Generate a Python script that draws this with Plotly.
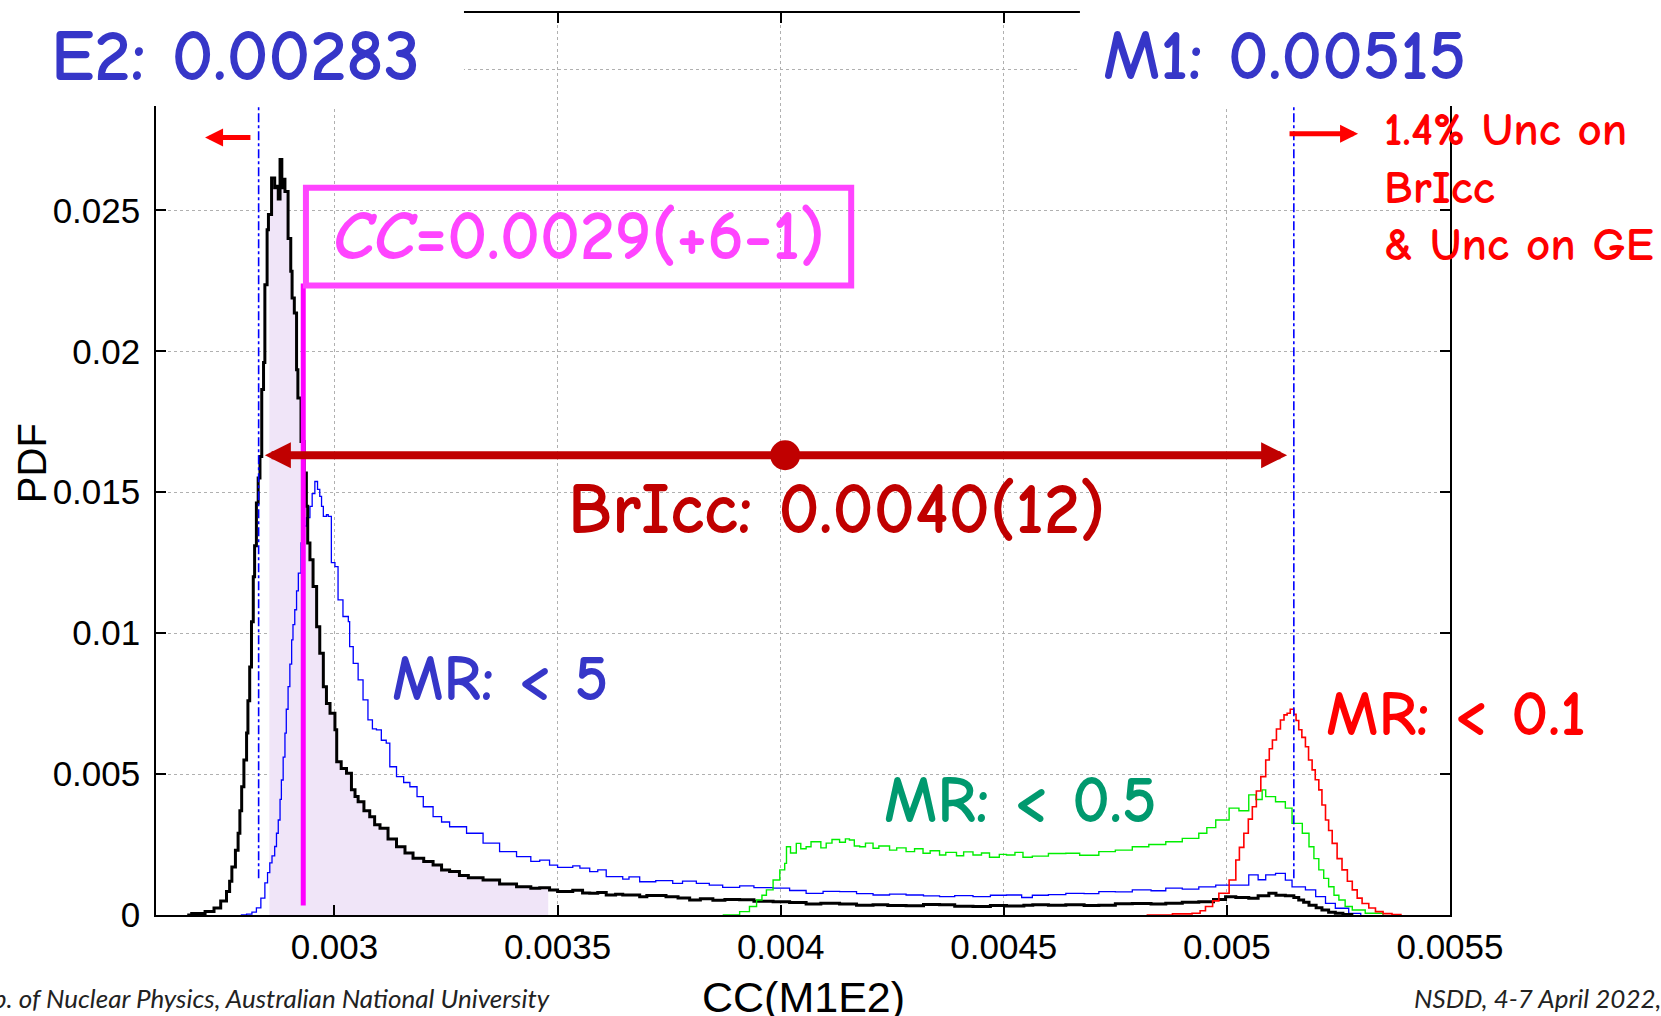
import plotly.graph_objects as go

# ---------------- data ----------------
black_x = [0.00267, 0.00268, 0.00271, 0.00273, 0.002745, 0.002758, 0.002765, 0.00277, 0.002778, 0.002784,
           0.002788, 0.002792, 0.002797, 0.002803, 0.002806, 0.00281, 0.002814, 0.002818, 0.002821, 0.002825,
           0.002829, 0.002833, 0.002837, 0.002841, 0.002844, 0.002849, 0.002852, 0.002859, 0.002866, 0.00287,
           0.002874, 0.002878, 0.002882, 0.002885, 0.002889, 0.002896, 0.002902, 0.002905, 0.00291, 0.002915,
           0.002918, 0.002925, 0.002932, 0.002937, 0.00294, 0.002945, 0.002952, 0.00296, 0.002967, 0.002975,
           0.002982, 0.00299, 0.003001, 0.003005, 0.003015, 0.003027, 0.003038, 0.003046, 0.003053, 0.003066,
           0.003079, 0.00309, 0.003102, 0.00312, 0.003139, 0.003158, 0.003176, 0.0032, 0.003221, 0.00324,
           0.003258, 0.00328, 0.0033, 0.003333, 0.00337, 0.003408, 0.00344, 0.00346, 0.003482, 0.0035,
           0.003534, 0.003556, 0.003572, 0.00359, 0.003609, 0.00363, 0.003646, 0.003684, 0.0037, 0.003743,
           0.00377, 0.003796, 0.00382, 0.003848, 0.003875, 0.003908, 0.00394, 0.003983, 0.00402, 0.004057,
           0.00409, 0.004132, 0.00417, 0.004207, 0.00424, 0.004281, 0.00432, 0.004356, 0.00439, 0.004431,
           0.00447, 0.004506, 0.004545, 0.004565, 0.0046, 0.004639, 0.00468, 0.004713, 0.00475, 0.004788,
           0.00483, 0.004863, 0.0049, 0.004937, 0.00497, 0.004997, 0.00502, 0.005049, 0.00507, 0.005094,
           0.00511, 0.005131, 0.00515, 0.005161, 0.005172, 0.005184, 0.0052, 0.005213, 0.005228, 0.005243,
           0.00526, 0.00528]
black_y = [0.0, 0.00005, 0.00012, 0.00025, 0.0005, 0.00083, 0.0012, 0.0017, 0.0023, 0.0029,
           0.0037, 0.00455, 0.0055, 0.00646, 0.0076, 0.0088, 0.0104, 0.012, 0.0131, 0.01462,
           0.0155, 0.01627, 0.01864, 0.0196, 0.02236, 0.02431, 0.02485, 0.02615, 0.0258, 0.02585,
           0.0254, 0.0268, 0.0258, 0.0261, 0.02567, 0.024, 0.02284, 0.02189, 0.02136, 0.01934,
           0.01834, 0.0168, 0.01568, 0.0145, 0.0132, 0.0126, 0.01165, 0.01023, 0.00929, 0.0081,
           0.0075, 0.00716, 0.00657, 0.00544, 0.0052, 0.00503, 0.00444, 0.0042, 0.00402, 0.0037,
           0.00349, 0.0032, 0.00308, 0.0027, 0.00242, 0.0022, 0.00201, 0.0019, 0.00177, 0.0016,
           0.00154, 0.0014, 0.00132, 0.00124, 0.0011, 0.001, 0.00095, 0.00097, 0.00089, 0.00083,
           0.00088, 0.00078, 0.00077, 0.0008, 0.00071, 0.00074, 0.00071, 0.00065, 0.00069, 0.00065,
           0.0006, 0.00053, 0.00058, 0.00052, 0.00055, 0.00054, 0.00049, 0.00047, 0.00044, 0.00039,
           0.00042, 0.00039, 0.00035, 0.00036, 0.00034, 0.00033, 0.00037, 0.00036, 0.00031, 0.0003,
           0.00034, 0.00032, 0.00035, 0.00036, 0.00035, 0.00036, 0.00034, 0.00035, 0.0004, 0.00041,
           0.00039, 0.00042, 0.00045, 0.00047, 0.00055, 0.00065, 0.00062, 0.00059, 0.00068, 0.00077,
           0.0007, 0.00068, 0.00062, 0.00053, 0.00045, 0.00035, 0.00026, 0.00018, 0.0001, 0.00006,
           0.00002, 0.0]

blue_x = [0.00279, 0.002803, 0.002815, 0.002825, 0.002835, 0.002844, 0.00285, 0.002855, 0.00286, 0.002866,
          0.00287, 0.002874, 0.002878, 0.002881, 0.002885, 0.002889, 0.002892, 0.002896, 0.0029, 0.002904,
          0.002907, 0.002911, 0.002915, 0.002919, 0.002925, 0.00293, 0.002937, 0.002945, 0.00295, 0.002956,
          0.002962, 0.002967, 0.002971, 0.002975, 0.002982, 0.002986, 0.002993, 0.003001, 0.003008, 0.003019,
          0.003031, 0.003034, 0.003042, 0.003053, 0.003064, 0.003075, 0.003085, 0.003094, 0.003105, 0.003116,
          0.003124, 0.003139, 0.003155, 0.003169, 0.003185, 0.003199, 0.003221, 0.00324, 0.003258, 0.003296,
          0.003333, 0.00337, 0.003408, 0.00344, 0.00346, 0.003482, 0.0035, 0.003534, 0.00355, 0.003572,
          0.00359, 0.003609, 0.003646, 0.00366, 0.003684, 0.00372, 0.003758, 0.00378, 0.003811, 0.00384,
          0.00387, 0.003908, 0.00394, 0.003983, 0.00402, 0.004057, 0.004095, 0.004132, 0.00417, 0.004207,
          0.004244, 0.004281, 0.00432, 0.004356, 0.00439, 0.004431, 0.00447, 0.004506, 0.00454, 0.004564,
          0.0046, 0.004639, 0.00468, 0.004713, 0.00475, 0.004788, 0.00483, 0.004863, 0.0049, 0.004937,
          0.004975, 0.005012, 0.005049, 0.00507, 0.005087, 0.005109, 0.005131, 0.005146, 0.005176, 0.005199,
          0.005221, 0.005243, 0.005273, 0.0053]
blue_y = [0.0, 0.00003, 0.0001, 0.00025, 0.0006, 0.00114, 0.0015, 0.00185, 0.0021, 0.00243,
          0.0029, 0.00337, 0.0041, 0.00479, 0.0056, 0.00645, 0.0073, 0.0081, 0.0089, 0.00976,
          0.0103, 0.01083, 0.0115, 0.01213, 0.0132, 0.0138, 0.0141, 0.0145, 0.01495, 0.01538,
          0.0151, 0.01485, 0.0145, 0.01414, 0.0142, 0.01414, 0.0125, 0.01236, 0.01118, 0.01059,
          0.01041, 0.00952, 0.00893, 0.00834, 0.00763, 0.00692, 0.0066, 0.00657, 0.0062, 0.0061,
          0.00526, 0.00491, 0.0047, 0.00455, 0.0042, 0.00384, 0.00349, 0.0033, 0.00313, 0.0029,
          0.00255, 0.00225, 0.00207, 0.0019, 0.00195, 0.00177, 0.00169, 0.00174, 0.00166, 0.00154,
          0.0016, 0.00136, 0.00127, 0.00135, 0.00118, 0.00122, 0.00112, 0.0012, 0.00112, 0.00106,
          0.00098, 0.00103, 0.00097, 0.00095, 0.00087, 0.00077, 0.00084, 0.00083, 0.00076, 0.00071,
          0.00074, 0.00071, 0.00068, 0.00065, 0.00069, 0.00065, 0.0007, 0.00071, 0.00062, 0.0007,
          0.00072, 0.00077, 0.00076, 0.00083, 0.00082, 0.00089, 0.00086, 0.00095, 0.00092, 0.001,
          0.00106, 0.00106, 0.00142, 0.00125, 0.00142, 0.00148, 0.00124, 0.001, 0.00089, 0.00065,
          0.00041, 0.00024, 0.00006, 0.0]

green_x = [0.00387, 0.003908, 0.00393, 0.003946, 0.003958, 0.003968, 0.003983, 0.003998, 0.004009, 0.004013,
           0.004022, 0.004035, 0.004045, 0.004057, 0.004068, 0.00408, 0.00409, 0.004102, 0.004115, 0.004132,
           0.004145, 0.004154, 0.004165, 0.004177, 0.00419, 0.004207, 0.00422, 0.004244, 0.00426, 0.004281,
           0.0043, 0.004319, 0.004335, 0.004356, 0.00437, 0.004394, 0.00441, 0.004431, 0.00445, 0.004468,
           0.00449, 0.004506, 0.004525, 0.004543, 0.004564, 0.0046, 0.004639, 0.00467, 0.004713, 0.00475,
           0.004788, 0.004825, 0.004863, 0.0049, 0.004937, 0.004955, 0.004975, 0.005005, 0.005027, 0.005049,
           0.005065, 0.005079, 0.005087, 0.005109, 0.005131, 0.005146, 0.005169, 0.005184, 0.005195, 0.005206,
           0.005217, 0.005228, 0.00524, 0.005251, 0.005265, 0.005281, 0.00531, 0.00535]
green_y = [0.0, 0.00012, 0.0003, 0.00053, 0.0007, 0.00089, 0.00124, 0.0016, 0.00183, 0.00242,
           0.0022, 0.00254, 0.00235, 0.00242, 0.0026, 0.0026, 0.00238, 0.00255, 0.00268, 0.00258,
           0.0027, 0.00266, 0.00245, 0.00242, 0.00255, 0.00237, 0.00245, 0.0023, 0.00238, 0.00225,
           0.00235, 0.00219, 0.00228, 0.00213, 0.00222, 0.0021, 0.00224, 0.00213, 0.0022, 0.00205,
           0.00215, 0.00213, 0.00222, 0.00205, 0.00209, 0.00218, 0.00219, 0.00212, 0.00225, 0.0023,
           0.00242, 0.0025, 0.0026, 0.00272, 0.0029, 0.0031, 0.00337, 0.00379, 0.0037, 0.00426,
           0.0041, 0.00444, 0.0042, 0.00402, 0.00379, 0.00325, 0.0029, 0.00242, 0.002, 0.0016,
           0.0013, 0.001, 0.0007, 0.00053, 0.0003, 0.00018, 0.00006, 0.0]

red_x = [0.00482, 0.004878, 0.004922, 0.00494, 0.004952, 0.004968, 0.004982, 0.005005, 0.00502, 0.005028,
         0.005038, 0.005048, 0.005057, 0.005066, 0.005076, 0.005087, 0.005095, 0.005102, 0.005111, 0.00512,
         0.005128, 0.005135, 0.005142, 0.00515, 0.005155, 0.005161, 0.005168, 0.005176, 0.005183, 0.005191,
         0.005198, 0.005206, 0.005213, 0.005221, 0.005228, 0.005236, 0.005247, 0.005258, 0.00527, 0.005281,
         0.005292, 0.005303, 0.005318, 0.005333, 0.00535, 0.00537, 0.00539]
red_y = [0.0, 0.00004, 0.00006, 0.00015, 0.0003, 0.0005, 0.00077, 0.00124, 0.00195, 0.0024,
         0.0029, 0.0034, 0.00384, 0.0044, 0.00491, 0.0055, 0.0059, 0.00621, 0.0066, 0.00692,
         0.0071, 0.00716, 0.0073, 0.00712, 0.0069, 0.00657, 0.0063, 0.00597, 0.0055, 0.00515,
         0.0048, 0.00444, 0.0039, 0.00337, 0.003, 0.00254, 0.002, 0.0016, 0.0012, 0.00089,
         0.0006, 0.00041, 0.00025, 0.00012, 0.00005, 0.00002, 0.0]

x_tickvals = [0.003, 0.0035, 0.004, 0.0045, 0.005, 0.0055]
x_ticktext = ["0.003", "0.0035", "0.004", "0.0045", "0.005", "0.0055"]
y_tickvals = [0, 0.005, 0.01, 0.015, 0.02, 0.025, 0.03]
y_ticktext = ["0", "0.005", "0.01", "0.015", "0.02", "0.025", ""]

E2_VALUE = 0.00283
M1_VALUE = 0.00515
CC_VALUE = 0.00293
BRICC_VALUE = 0.00401
SHADE_LO = 0.002854
SHADE_HI = 0.003479

# ---------------- helpers ----------------
def step_value(xs, ys, x):
    val = 0.0
    for xi, yi in zip(xs, ys):
        if xi <= x:
            val = yi
    return val

shade_x = [SHADE_LO] + [x for x in black_x if SHADE_LO < x < SHADE_HI] + [SHADE_HI]
shade_y = [step_value(black_x, black_y, SHADE_LO)] + \
          [y for x, y in zip(black_x, black_y) if SHADE_LO < x < SHADE_HI] + \
          [step_value(black_x, black_y, SHADE_HI)]

COMIC = "Comic Sans MS, Comic Neue, Open Sans, sans-serif"
ARIAL = "Liberation Sans, Arial, sans-serif"


def comic(size, color):
    return dict(family=COMIC, size=size, color=color, weight="bold")


fig = go.Figure()

fig.add_trace(go.Scatter(x=shade_x, y=shade_y, mode="lines", line_shape="hv",
                         line=dict(width=0), fill="tozeroy", fillcolor="#f0e5f8",
                         showlegend=False, hoverinfo="skip"))
fig.add_trace(go.Scatter(x=blue_x, y=blue_y, mode="lines", line_shape="hv",
                         line=dict(color="#0000ff", width=1.3), showlegend=False))
fig.add_trace(go.Scatter(x=black_x, y=black_y, mode="lines", line_shape="hv",
                         line=dict(color="#000000", width=3), showlegend=False))
fig.add_trace(go.Scatter(x=green_x, y=green_y, mode="lines", line_shape="hv",
                         line=dict(color="#00ee00", width=1.4), showlegend=False))
fig.add_trace(go.Scatter(x=red_x, y=red_y, mode="lines", line_shape="hv",
                         line=dict(color="#ff0000", width=1.6), showlegend=False))

ARROW_Y = 0.01631
fig.add_trace(go.Scatter(x=[BRICC_VALUE], y=[ARROW_Y], mode="markers",
                         marker=dict(color="#c00000", size=30), showlegend=False))

shapes = [
    dict(type="line", xref="x", yref="y", x0=E2_VALUE, x1=E2_VALUE, y0=0.0013, y1=0.032,
         line=dict(color="#0000ff", width=1.6, dash="dashdot"), layer="above"),
    dict(type="line", xref="x", yref="y", x0=M1_VALUE, x1=M1_VALUE, y0=0.0013, y1=0.032,
         line=dict(color="#0000ff", width=1.6, dash="dashdot"), layer="above"),
    dict(type="line", xref="x", yref="y", x0=CC_VALUE, x1=CC_VALUE, y0=0.00034, y1=0.0224,
         line=dict(color="#ff00ff", width=5), layer="above"),
    dict(type="rect", xref="x", yref="y", x0=0.002936, x1=0.004158, y0=0.02233, y1=0.0258,
         line=dict(color="#ff44ff", width=6), fillcolor="rgba(0,0,0,0)", layer="above"),
    dict(type="rect", xref="paper", yref="paper", x0=-0.2, x1=0.238, y0=0.8969, y1=1.1,
         line=dict(width=0), fillcolor="white", layer="above"),
    dict(type="rect", xref="paper", yref="paper", x0=0.714, x1=1.3, y0=0.8969, y1=1.1,
         line=dict(width=0), fillcolor="white", layer="above"),
]

annotations = [
    dict(x=0.002778, y=0.03046, text="E2: 0.00283", showarrow=False,
         font=comic(73, "#3636c8"), xanchor="center", yanchor="middle"),
    dict(x=0.00513, y=0.03046, text="M1: 0.00515", showarrow=False,
         font=comic(71, "#3636c8"), xanchor="center", yanchor="middle"),
    dict(x=0.003549, y=0.02407, text="<i>CC</i>=0.0029(+6-1)", showarrow=False,
         font=comic(70, "#ff44ff"), xanchor="center", yanchor="middle"),
    dict(x=0.004125, y=0.01438, text="BrIcc: 0.0040(12)", showarrow=False,
         font=comic(72, "#c00000"), xanchor="center", yanchor="middle"),
    dict(x=0.003371, y=0.008377, text="MR: &lt; 5", showarrow=False,
         font=comic(64, "#3636c8"), xanchor="center", yanchor="middle"),
    dict(x=0.004537, y=0.004047, text="MR: &lt; 0.5", showarrow=False,
         font=comic(66, "#00996e"), xanchor="center", yanchor="middle"),
    dict(xref="paper", x=1.0046, y=0.007135, text="MR: &lt; 0.1", showarrow=False,
         font=comic(65, "#ff0000"), xanchor="center", yanchor="middle"),
    dict(x=0.005348, y=0.02786, text="1.4% Unc on", showarrow=False,
         font=comic(47, "#ff0000"), xanchor="left", yanchor="middle"),
    dict(x=0.005348, y=0.0258, text="BrIcc", showarrow=False,
         font=comic(47, "#ff0000"), xanchor="left", yanchor="middle"),
    dict(x=0.005348, y=0.02378, text="&amp; Unc on GE", showarrow=False,
         font=comic(47, "#ff0000"), xanchor="left", yanchor="middle"),
    dict(x=0.002844, y=ARROW_Y, ax=BRICC_VALUE, ay=ARROW_Y, axref="x", ayref="y", text="",
         showarrow=True, arrowhead=2, arrowsize=0.65, arrowwidth=8, arrowcolor="#c00000",
         standoff=0),
    dict(x=0.005135, y=ARROW_Y, ax=BRICC_VALUE, ay=ARROW_Y, axref="x", ayref="y", text="",
         showarrow=True, arrowhead=2, arrowsize=0.65, arrowwidth=8, arrowcolor="#c00000",
         standoff=0),
    dict(x=0.00271, y=0.02758, ax=0.002815, ay=0.02758, axref="x", ayref="y", text="",
         showarrow=True, arrowhead=2, arrowsize=0.72, arrowwidth=5, arrowcolor="#ff0000", standoff=0),
    dict(x=0.005294, y=0.02772, ax=0.005137, ay=0.02772, axref="x", ayref="y", text="",
         showarrow=True, arrowhead=2, arrowsize=0.72, arrowwidth=5, arrowcolor="#ff0000", standoff=0),
    dict(xref="paper", yref="paper", x=0.5, y=-0.0909, text="CC(M1E2)", showarrow=False,
         font=dict(family=ARIAL, size=43, color="black"), xanchor="center", yanchor="middle"),
    dict(xref="paper", yref="paper", x=-0.0958, y=0.501, text="PDF", showarrow=False, textangle=-90,
         font=dict(family=ARIAL, size=40, color="black"), xanchor="center", yanchor="middle"),
    dict(xref="paper", yref="paper", x=0.306, y=-0.092,
         text="<i>Dep. of Nuclear Physics, Australian National University</i>", showarrow=False,
         font=dict(family="Lato, Open Sans, sans-serif", size=26, color="#222222"),
         xanchor="right", yanchor="middle"),
    dict(xref="paper", yref="paper", x=0.971, y=-0.092,
         text="<i>NSDD, 4-7 April 2022, IAEA</i>", showarrow=False,
         font=dict(family="Lato, Open Sans, sans-serif", size=26, color="#222222"),
         xanchor="left", yanchor="middle"),
]

axis_common = dict(showline=True, linecolor="black", linewidth=1.5, mirror="ticks",
                   ticks="inside", ticklen=10, tickwidth=1.5, tickcolor="black",
                   showgrid=True, gridcolor="#b0b0b0", gridwidth=1, griddash="dot",
                   zeroline=False, tickfont=dict(family=ARIAL, size=35, color="black"))

fig.update_layout(
    width=1661, height=1016,
    margin=dict(l=156, r=211, t=13, b=101),
    paper_bgcolor="white", plot_bgcolor="white",
    xaxis=dict(range=[0.0026, 0.0055], tickmode="array", tickvals=x_tickvals, ticktext=x_ticktext,
               ticklabelstandoff=0, **axis_common),
    yaxis=dict(range=[0, 0.032], tickmode="array", tickvals=y_tickvals, ticktext=y_ticktext,
               ticklabelstandoff=7, **axis_common),
    shapes=shapes,
    annotations=annotations,
    showlegend=False,
)

fig.write_html("out.html")
